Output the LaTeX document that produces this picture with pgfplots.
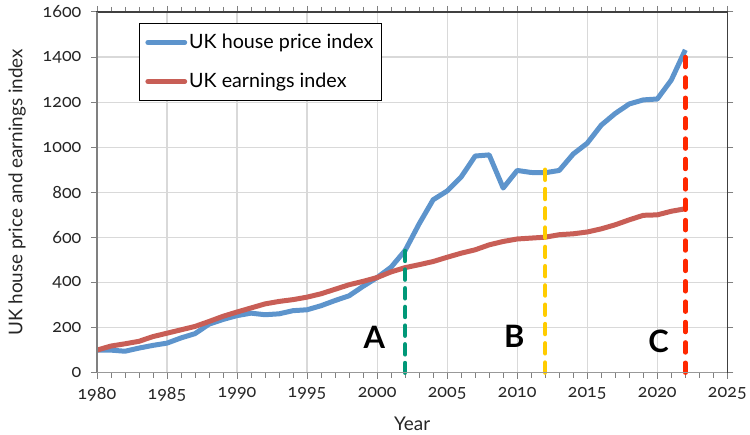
\documentclass[border=0pt]{standalone}
\usepackage{pgfplots}
\pgfplotsset{compat=1.18}
\usepackage{fontspec}
\setmainfont{Lato}[Numbers=OldStyle]
\definecolor{hpblue}{RGB}{93,148,204}
\definecolor{earnred}{RGB}{200,94,86}
\definecolor{gridgray}{RGB}{217,217,217}
\definecolor{teal}{RGB}{0,152,120}
\definecolor{yel}{RGB}{255,204,0}
\definecolor{redd}{RGB}{255,40,0}
\begin{document}
\begin{tikzpicture}
\begin{axis}[
  name=ax,
  scale only axis,
  width=631bp, height=361bp,
  xmin=1980, xmax=2025, ymin=0, ymax=1600,
  xtick={1980,1985,...,2025},
  ytick={0,200,...,1600},
  minor x tick num=4,
  grid=major,
  major grid style={gridgray, line width=1.2bp},
  tick align=outside,
  minor tick length=5bp,
  major tick length=6bp,
  major x tick style={draw=gray, line width=0.6bp},
  minor x tick style={draw=gray, line width=0.6bp},
  major y tick style={draw=gray, line width=1bp},
  axis line style={draw=black!75, line width=1.3bp},
  /pgf/number format/assume math mode=true,
  /pgf/number format/1000 sep={},
  tick label style={font=\fontsize{18}{20}\selectfont, text=black!85},
  xticklabel style={yshift=-5bp},
  yticklabel style={xshift=-6bp},
  xlabel={Year},
  ylabel={UK house price and earnings index},
  label style={font=\fontsize{19}{21}\selectfont, text=black!85},
  xlabel style={yshift=-9bp},
  ylabel style={yshift=10bp},
  legend style={at={(0.0666,0.9695)}, anchor=north west, draw=black, line width=1bp,
    font=\fontsize{19.8}{22}\selectfont, row sep=19bp, inner xsep=6bp, inner ysep=9bp,
    legend cell align=left},
  legend image code/.code={\draw[#1, line width=5bp, line cap=round] (0cm,0cm) -- (1.3cm,0cm);},
  clip=false,
]
\addplot[hpblue, line width=5bp, line join=round] coordinates {
(1980,100)(1981,100)(1982,95)(1983,109)(1984,121)(1985,131)(1986,154)(1987,173)
(1988,215)(1989,236)(1990,253)(1991,264)(1992,257)(1993,261)(1994,275)(1995,279)
(1996,297)(1997,320)(1998,341)(1999,383)(2000,422)(2001,468)(2002,542)(2003,660)
(2004,767)(2005,806)(2006,868)(2007,961)(2008,966)(2009,819)(2010,897)(2011,888)
(2012,887)(2013,897)(2014,970)(2015,1018)(2016,1098)(2017,1150)(2018,1192)
(2019,1210)(2020,1214)(2021,1298)(2022,1432)};
\addlegendentry{UK house price index}
\addplot[earnred, line width=5bp, line join=round] coordinates {
(1980,100)(1981,118)(1982,128)(1983,139)(1984,160)(1985,175)(1986,190)(1987,205)
(1988,227)(1989,250)(1990,269)(1991,287)(1992,305)(1993,316)(1994,324)(1995,335)
(1996,350)(1997,370)(1998,390)(1999,405)(2000,422)(2001,447)(2002,466)(2003,479)
(2004,493)(2005,512)(2006,530)(2007,545)(2008,567)(2009,582)(2010,593)(2011,597)
(2012,601)(2013,612)(2014,616)(2015,624)(2016,638)(2017,656)(2018,678)(2019,698)
(2020,700)(2021,716)(2022,727)};
\addlegendentry{UK earnings index}
\addplot[teal, line width=4.5bp, dash pattern=on 10bp off 8.7bp, line cap=round, forget plot] coordinates {(2002,540)(2002,0)};
\addplot[yel, line width=4.5bp, dash pattern=on 10bp off 9.3bp, line cap=round, forget plot] coordinates {(2012,900)(2012,0)};
\addplot[redd, line width=4.5bp, dash pattern=on 10bp off 10.4bp, line cap=round, forget plot] coordinates {(2022,1400)(2022,0)};
\node[font=\fontsize{31}{33}\selectfont\bfseries] at (axis cs:1999.8,155) {A};
\node[font=\fontsize{31}{33}\selectfont\bfseries] at (axis cs:2009.8,163) {B};
\node[font=\fontsize{31}{33}\selectfont\bfseries] at (axis cs:2020.1,140) {C};
\draw[gray, line width=1.3bp] (rel axis cs:0,0) -- (rel axis cs:0,1);
\draw[gray!80, line width=1.3bp] (rel axis cs:0,0) -- (rel axis cs:1,0);
\end{axis}
\path (ax.south west) ++(-97bp,-62bp) coordinate (bl);
\path (ax.north east) ++(22bp,12bp) coordinate (tr);
\path (bl) rectangle (tr);
\end{tikzpicture}
\end{document}
